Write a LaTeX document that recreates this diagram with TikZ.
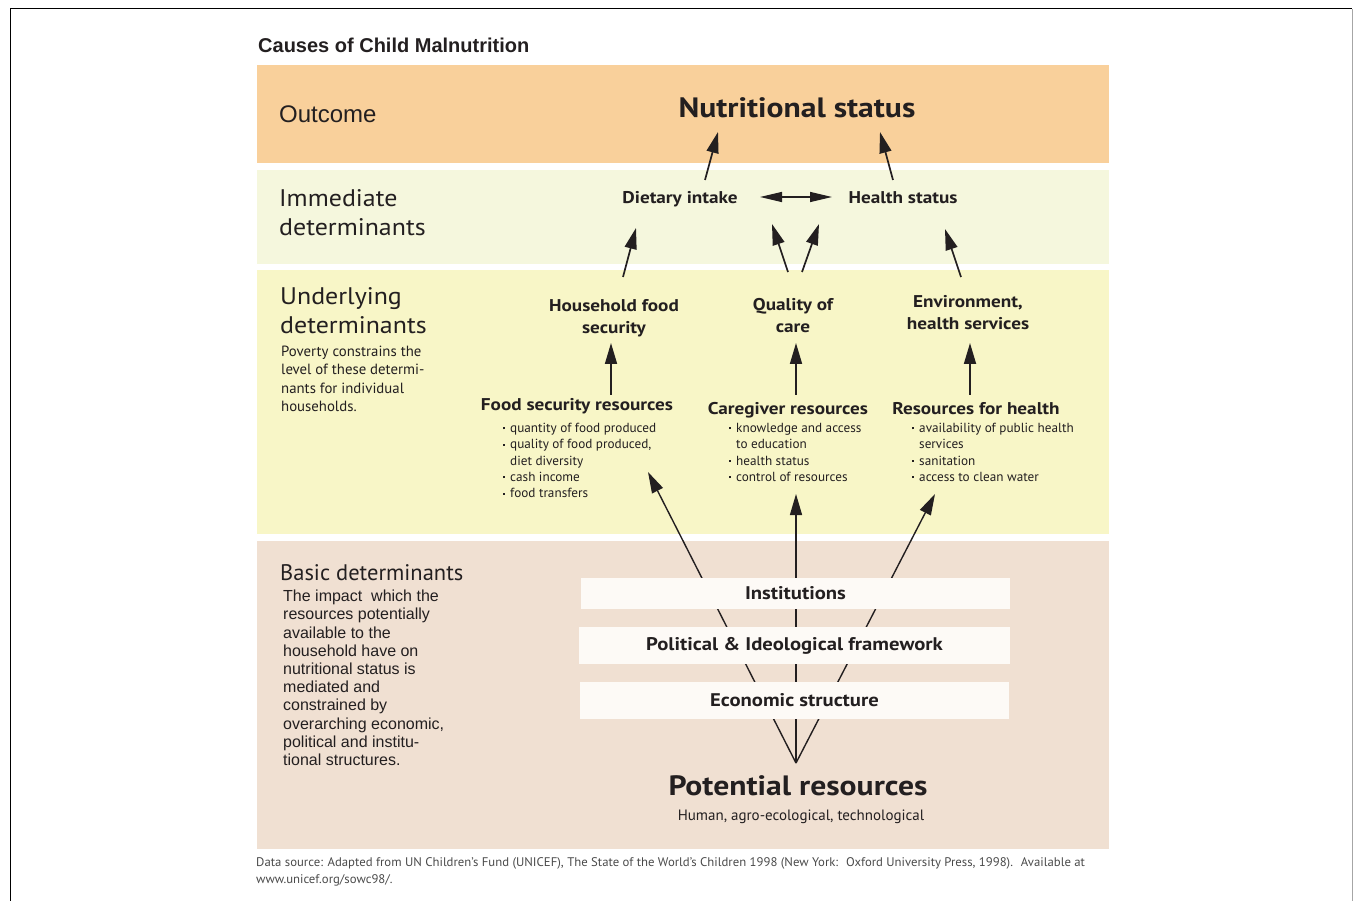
\documentclass[tikz,border=0pt]{standalone}
\usepackage{fontspec}
\setmainfont{PT Sans}[BoldFeatures={FakeStretch=1.13}]
\newfontfamily\hv{Liberation Sans}
\newfontfamily\myw{PT Sans}[FakeStretch=1.08]
\newfontfamily\capf{PT Sans}[FakeStretch=1.02]
\usetikzlibrary{arrows.meta}
\definecolor{ink}{HTML}{231F20}
\definecolor{outc}{HTML}{F9D09B}
\definecolor{imm}{HTML}{F5F7DD}
\definecolor{und}{HTML}{F8F6C7}
\definecolor{bas}{HTML}{F0E0D2}
\definecolor{boxf}{HTML}{FDFAF6}
\definecolor{capc}{HTML}{4A4A4A}
\newcommand\bul{\makebox[7pt][l]{\raisebox{3.2pt}{\rule{1.9pt}{1.9pt}}}}
\newcommand\fs[2]{\fontsize{#1}{#2}\selectfont}
\begin{document}
\begin{tikzpicture}[x=1pt,y=-1pt,
  every node/.style={inner sep=0pt, text=ink},
  arr/.style={draw=ink, line width=1.7pt, -{Triangle[length=21pt,width=12pt]}},
  dbl/.style={draw=ink, line width=1.4pt, {Triangle[length=22pt,width=10pt]}-{Triangle[length=22pt,width=10pt]}},
  fan/.style={draw=ink, line width=1.4pt},
  fanarr/.style={fan, -{Triangle[length=21pt,width=12pt]}},
  band/.style={font=\myw\fs{24}{29}, anchor=north west, align=left},
  lbl/.style={font=\bfseries\fs{17}{22}, anchor=north, align=center},
  res/.style={font=\bfseries\fs{17}{22}, anchor=north},
  lst/.style={font=\fs{13.2}{16.3}, anchor=north west, align=left},
  layer/.style={fill=boxf, minimum height=37pt, font=\bfseries\fs{18.3}{22}}
]
\useasboundingbox (0,0) rectangle (1353,901);
% frame
\draw[black, line width=1pt] (10,901) -- (10,9) -- (1352,9);
\draw[gray!70, line width=1pt] (1352,9) -- (1352,901);
% bands
\fill[outc] (257,65) rectangle (1109,163);
\fill[imm] (257,170) rectangle (1109,264);
\fill[und] (257,270) rectangle (1109,534);
\fill[bas] (257,541) rectangle (1109,849);
% title
\node[anchor=north west, font=\hv\bfseries\fs{20}{22}] (title) at (258,38) {Causes of Child Malnutrition};
% band labels
\node[anchor=north west, font=\hv\fs{24}{28}] (outl) at (279,106) {Outcome};
\node[band] (imml) at (279,189) {Immediate\\determinants};
\node[band] (undl) at (280,287) {Underlying\\determinants};
\node[anchor=north west, align=left, font=\fs{14.8}{18.3}] (pov) at (281,346) {Poverty constrains the\\level of these determi-\\nants for individual\\households.};
\node[anchor=north west, font=\fs{22.5}{29}] (basl) at (280,564) {Basic determinants};
\node[anchor=north west, align=left, font=\hv\fs{16}{18.2}] (baspar) at (283,590) {The impact \ which the\\resources potentially\\available to the\\household have on\\nutritional status is\\mediated and\\constrained by\\overarching economic,\\political and institu-\\tional structures.};
% outcome & immediate
\node[anchor=north, font=\bfseries\fs{28}{30}] (ns) at (797,97) {Nutritional status};
\node[lbl] (di) at (680,191) {Dietary intake};
\node[lbl] (hs) at (903,191) {Health status};
% underlying
\node[lbl] (hfs) at (614,299) {Household food\\security};
\node[lbl] (qoc) at (793,298) {Quality of\\care};
\node[lbl] (env) at (968,295) {Environment,\\health services};
\node[res] (fsr) at (577,398) {Food security resources};
\node[res] (cr) at (788,402) {Caregiver resources};
\node[res] (rh) at (976,402) {Resources for health};
\node[lst] (fsl) at (503,423) {\bul quantity of food produced\\\bul quality of food produced,\\\hspace*{7pt}diet diversity\\\bul cash income\\\bul food transfers};
\node[lst] (crl) at (729,423) {\bul knowledge and access\\\hspace*{7pt}to education\\\bul health status\\\bul control of resources};
\node[lst] (rhl) at (912,423) {\bul availability of public health\\\hspace*{7pt}services\\\bul sanitation\\\bul access to clean water};
% basic
\node[anchor=north, font=\bfseries\fs{28}{34}] (pr) at (798,775) {Potential resources};
\node[anchor=north, font=\fs{15}{18}] (hum) at (801,810) {Human, agro-ecological, technological};
% fan lines (behind the layer boxes)
\draw[fanarr] ([shift={(-2,-12)}]pr.north) -- ([shift={(145,49)}]fsl.north west);
\draw[fanarr] ([shift={(-2,-12)}]pr.north) -- ([shift={(67,71)}]crl.north west);
\draw[fanarr] ([shift={(-2,-12)}]pr.north) -- ([shift={(23,71)}]rhl.north west);
% layer boxes
\node[layer, minimum width=429pt, minimum height=31pt] (inst) at (795.5,593.5) {Institutions};
\node[layer, minimum width=431pt] (pol) at (794.5,645.5) {Political \& Ideological framework};
\node[layer, minimum width=429pt] (eco) at (794.5,700.5) {Economic structure};
% arrows
\draw[arr] ([shift={(25,-11)}]di.north) -- ([shift={(-79,35)}]ns.north);
\draw[arr] ([shift={(-10,-11)}]hs.north) -- ([shift={(83,35)}]ns.north);
\draw[dbl] ([shift={(80,6)}]di.north) -- ([shift={(-71,6)}]hs.north);
\draw[arr] ([shift={(9,-22)}]hfs.north) -- ([shift={(-44,37)}]di.north);
\draw[arr] ([shift={(-5,-26)}]qoc.north) -- ([shift={(92,33)}]di.north);
\draw[arr] ([shift={(9,-26)}]qoc.north) -- ([shift={(-84,33)}]hs.north);
\draw[arr] ([shift={(-7,-18)}]env.north) -- ([shift={(42,38)}]hs.north);
\draw[arr] ([shift={(34,-3)}]fsr.north) -- ([shift={(-3,44)}]hfs.north);
\draw[arr] ([shift={(8,-7)}]cr.north) -- ([shift={(3,45)}]qoc.north);
\draw[arr] ([shift={(-6,-7)}]rh.north) -- ([shift={(2,48)}]env.north);
% caption
\node[anchor=north west, align=left, font=\capf\fs{12.5}{17}, text=capc] (cap) at (256,857) {Data source: Adapted from UN Children’s Fund (UNICEF), The State of the World’s Children 1998 (New York: \ Oxford University Press, 1998). \ Available at\\www.unicef.org/sowc98/.};
\end{tikzpicture}
\end{document}
